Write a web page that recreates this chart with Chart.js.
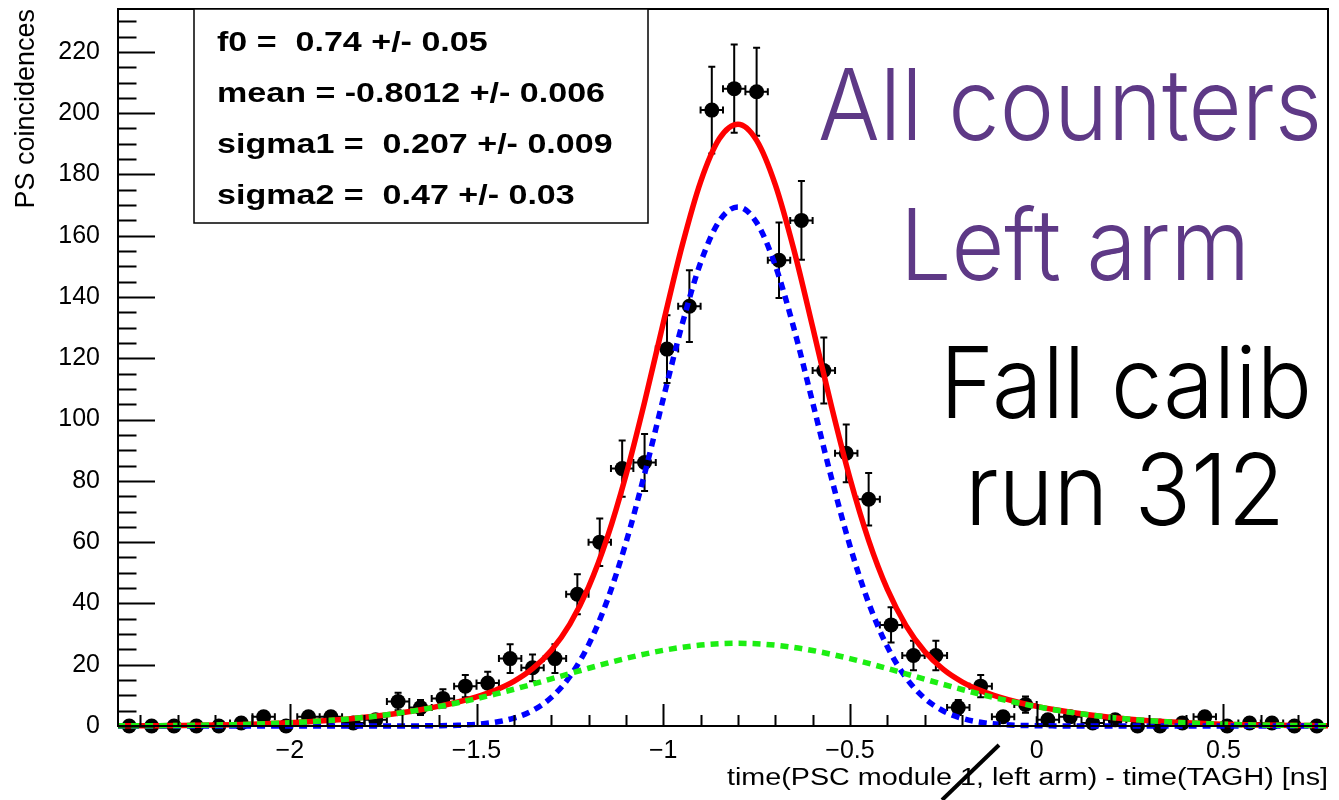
<!DOCTYPE html>
<html>
<head>
<meta charset="utf-8">
<script src="https://cdn.jsdelivr.net/npm/chart.js@4.4.1/dist/chart.umd.min.js"></script>
<style>
  html, body { margin: 0; padding: 0; background: #fff; }
  #wrap { width: 1339px; height: 800px; }
</style>
</head>
<body>
<div id="wrap"><canvas id="chart" width="1339" height="800"></canvas></div>
<script>
// =======================
// Histogram: PSC - TAGH time difference, 0.06 ns bins
// =======================
const binCenters = [
  -2.43, -2.37, -2.31, -2.25, -2.19, -2.13, -2.07, -2.01, -1.95, -1.89,
  -1.83, -1.77, -1.71, -1.65, -1.59, -1.53, -1.47, -1.41, -1.35, -1.29,
  -1.23, -1.17, -1.11, -1.05, -0.99, -0.93, -0.87, -0.81, -0.75, -0.69,
  -0.63, -0.57, -0.51, -0.45, -0.39, -0.33, -0.27, -0.21, -0.15, -0.09,
  -0.03, 0.03, 0.09, 0.15, 0.21, 0.27, 0.33, 0.39, 0.45, 0.51,
  0.57, 0.63, 0.69, 0.75
];
const counts = [
  0, 0, 0, 0, 0, 1, 3, 0, 3, 3,
  1, 2, 8, 6, 9, 13, 14, 22, 19, 22,
  43, 60, 84, 86, 123, 137, 201, 208, 207, 152,
  165, 116, 89, 74, 33, 23, 23, 6, 13, 3,
  7, 2, 3, 1, 2, 0, 0, 1, 3, 0,
  1, 1, 0, 0
];
const countErrors = [
  0, 0, 0, 0, 0, 1, 1.73, 0, 1.73, 1.73,
  1, 1.41, 2.83, 2.45, 3, 3.61, 3.74, 4.69, 4.36, 4.69,
  6.56, 7.75, 9.17, 9.27, 11.09, 11.7, 14.18, 14.42, 14.39, 12.33,
  12.85, 10.77, 9.43, 8.6, 5.74, 4.8, 4.8, 2.45, 3.61, 1.73,
  2.65, 1.41, 1.73, 1, 1.41, 0, 0, 1, 1.73, 0,
  1, 1, 0, 0
];
const binHalfWidth = 0.03;

// =======================
// Double gaussian fit, sampled every 0.05 ns
// =======================
const fitX = [
  -2.50, -2.45, -2.40, -2.35, -2.30, -2.25, -2.20, -2.15, -2.10, -2.05,
  -2.00, -1.95, -1.90, -1.85, -1.80, -1.75, -1.70, -1.65, -1.60, -1.55,
  -1.50, -1.45, -1.40, -1.35, -1.30, -1.25, -1.20, -1.15, -1.10, -1.05,
  -1.00, -0.95, -0.90, -0.85, -0.80, -0.75, -0.70, -0.65, -0.60, -0.55,
  -0.50, -0.45, -0.40, -0.35, -0.30, -0.25, -0.20, -0.15, -0.10, -0.05,
  0.00, 0.05, 0.10, 0.15, 0.20, 0.25, 0.30, 0.35, 0.40, 0.45,
  0.50, 0.55, 0.60, 0.65, 0.70, 0.75, 0.80
];
const fitTotal = [
  0.04, 0.06, 0.08, 0.12, 0.17, 0.23, 0.32, 0.44, 0.59, 0.79,
  1.04, 1.36, 1.76, 2.24, 2.82, 3.52, 4.35, 5.33, 6.47, 7.83,
  9.51, 11.66, 14.57, 18.70, 24.66, 33.28, 45.32, 61.46, 81.83, 105.73,
  131.49, 156.48, 177.61, 191.65, 196.40, 191.14, 176.68, 155.34, 130.23, 104.53,
  80.75, 60.59, 44.66, 32.78, 24.32, 18.46, 14.42, 11.54, 9.42, 7.76,
  6.42, 5.28, 4.30, 3.48, 2.79, 2.21, 1.74, 1.35, 1.03, 0.78,
  0.59, 0.43, 0.32, 0.23, 0.16, 0.12, 0.08
];
const fitNarrow = [
  0, 0, 0, 0, 0, 0, 0, 0, 0, 0,
  0, 0, 0, 0, 0, 0, 0.01, 0.04, 0.10, 0.24,
  0.57, 1.25, 2.58, 5.04, 9.29, 16.16, 26.48, 40.96, 59.77, 82.26,
  106.8, 130.8, 151.2, 164.8, 169.4, 164.3, 150.3, 129.7, 105.6, 81.12,
  58.76, 40.17, 25.90, 15.75, 9.03, 4.89, 2.50, 1.20, 0.55, 0.23,
  0.10, 0.04, 0.01, 0, 0, 0, 0, 0, 0, 0,
  0, 0, 0, 0, 0, 0, 0
];
const fitWide = [
  0.04, 0.06, 0.08, 0.12, 0.17, 0.23, 0.32, 0.44, 0.59, 0.79,
  1.04, 1.36, 1.76, 2.24, 2.82, 3.52, 4.34, 5.29, 6.37, 7.59,
  8.94, 10.41, 11.99, 13.66, 15.37, 17.12, 18.84, 20.50, 22.06, 23.47,
  24.69, 25.68, 26.41, 26.85, 27.00, 26.84, 26.38, 25.64, 24.63, 23.41,
  21.99, 20.42, 18.76, 17.03, 15.29, 13.57, 11.92, 10.34, 8.87, 7.53,
  6.32, 5.24, 4.29, 3.48, 2.79, 2.21, 1.74, 1.35, 1.03, 0.78,
  0.59, 0.43, 0.32, 0.23, 0.16, 0.12, 0.08
];

// =======================
// Axes & labels
// =======================
const xTicks = [-2, -1.5, -1, -0.5, 0, 0.5];
const yTicks = [0, 20, 40, 60, 80, 100, 120, 140, 160, 180, 200, 220];
const fitParams = [
  "f0 =  0.74 +/- 0.05",
  "mean = -0.8012 +/- 0.006",
  "sigma1 =  0.207 +/- 0.009",
  "sigma2 =  0.47 +/- 0.03"
];
const xTitle = "time(PSC module 1, left arm) - time(TAGH) [ns]";
const yTitle = "PS coincidences";

const FONT = "'Liberation Sans', Arial, Helvetica, sans-serif";
const LIGHT = "Inter, Roboto, 'Liberation Sans', sans-serif";
const PURPLE = "#5e3986";

// big side notes: text, colour, [left, right, baseline] in canvas px, font px
const notes = [
  { text: "All counters", color: PURPLE, box: [818, 1322, 140], size: 99 },
  { text: "Left arm",     color: PURPLE, box: [900, 1250, 280], size: 99 },
  { text: "Fall calib",   color: "#000", box: [940, 1312, 418], size: 99 },
  { text: "run 312",      color: "#000", box: [965, 1285, 525], size: 99 }
];

// text squeezed/stretched horizontally to a given width
function fitText(ctx, text, left, width, baseline, font) {
  ctx.save();
  ctx.font = font;
  const w = ctx.measureText(text).width;
  ctx.translate(left, baseline);
  ctx.scale(width / w, 1);
  ctx.textAlign = "left";
  ctx.textBaseline = "alphabetic";
  ctx.fillText(text, 0, 0);
  ctx.restore();
}

function minus(v) {
  return String(v).replace("-", "\u2212");
}

// =======================
// Plugins
// =======================
const errorBars = {
  id: "errorBars",
  beforeDatasetsDraw(chart) {
    const { ctx, scales: { x, y } } = chart;
    const cap = 3.5;
    ctx.save();
    ctx.strokeStyle = "#000";
    ctx.lineWidth = 2;
    ctx.beginPath();
    counts.forEach((n, i) => {
      if (!n) return;
      const px = x.getPixelForValue(binCenters[i]);
      const py = y.getPixelForValue(n);
      const x0 = x.getPixelForValue(binCenters[i] - binHalfWidth);
      const x1 = x.getPixelForValue(binCenters[i] + binHalfWidth);
      const yHi = y.getPixelForValue(n + countErrors[i]);
      const yLo = y.getPixelForValue(n - countErrors[i]);
      ctx.moveTo(x0, py); ctx.lineTo(x1, py);
      ctx.moveTo(x0, py - cap); ctx.lineTo(x0, py + cap);
      ctx.moveTo(x1, py - cap); ctx.lineTo(x1, py + cap);
      ctx.moveTo(px, yHi); ctx.lineTo(px, yLo);
      ctx.moveTo(px - cap, yHi); ctx.lineTo(px + cap, yHi);
      ctx.moveTo(px - cap, yLo); ctx.lineTo(px + cap, yLo);
    });
    ctx.stroke();
    ctx.restore();
  }
};

// ROOT style frame with inward ticks
const rootFrame = {
  id: "rootFrame",
  afterDatasetsDraw(chart) {
    const { ctx, chartArea: a, scales: { x, y } } = chart;
    ctx.save();
    ctx.strokeStyle = "#000";
    ctx.lineWidth = 2;
    ctx.strokeRect(a.left, a.top, a.right - a.left, a.bottom - a.top);
    ctx.beginPath();
    for (let k = -24; k <= 7; k++) {
      const px = Math.round(x.getPixelForValue(k / 10)) + 0.5;
      const len = k % 5 === 0 ? 22 : 11;
      ctx.moveTo(px, a.bottom);
      ctx.lineTo(px, a.bottom - len);
    }
    for (let v = 0; v <= 230; v += 5) {
      const py = Math.round(y.getPixelForValue(v)) + 0.5;
      const len = v % 20 === 0 ? 37 : 18.5;
      ctx.moveTo(a.left, py);
      ctx.lineTo(a.left + len, py);
    }
    ctx.stroke();
    ctx.restore();
  },
  afterDraw(chart) {
    const { ctx, chartArea: a } = chart;
    ctx.save();

    // fit parameter box
    const bx = a.left + 76, by = a.top, bw = 454, bh = 214;
    ctx.fillStyle = "#fff";
    ctx.fillRect(bx, by, bw, bh);
    ctx.strokeStyle = "#000";
    ctx.lineWidth = 1.5;
    ctx.strokeRect(bx, by, bw, bh);
    ctx.fillStyle = "#000";
    ctx.font = "bold 28px " + FONT;
    const sx = 388 / ctx.measureText(fitParams[1]).width;
    fitParams.forEach((t, i) => {
      ctx.save();
      ctx.translate(bx + 23, by + 42 + i * 51);
      ctx.scale(sx, 1);
      ctx.fillText(t, 0, 0);
      ctx.restore();
    });

    // x axis title, right aligned to the frame
    ctx.fillStyle = "#000";
    fitText(ctx, xTitle, a.right - 601, 601, 785, "23px " + FONT);

    // slash over the module number
    ctx.strokeStyle = "#000";
    ctx.lineWidth = 4;
    ctx.beginPath();
    ctx.moveTo(942, 800);
    ctx.lineTo(999, 745);
    ctx.stroke();

    // run notes
    notes.forEach(n => {
      ctx.fillStyle = n.color;
      fitText(ctx, n.text, n.box[0], n.box[1] - n.box[0], n.box[2], "300 " + n.size + "px " + LIGHT);
    });
    ctx.restore();
  }
};

// =======================
// Chart
// =======================
const curve = (label, data, color, dash, order) => ({
  label,
  data: fitX.map((x, i) => ({ x, y: data[i] })),
  showLine: true,
  borderColor: color,
  borderWidth: 5.5,
  borderDash: dash,
  pointRadius: 0,
  cubicInterpolationMode: "monotone",
  clip: { left: 0, right: 0, top: 0, bottom: 6 },
  order
});

new Chart(document.getElementById("chart").getContext("2d"), {
  type: "scatter",
  data: {
    datasets: [
      curve("wide gaussian", fitWide, "#1cee12", [8, 6], 1),
      curve("narrow gaussian", fitNarrow, "#0000ff", [8, 6], 2),
      curve("total fit", fitTotal, "#ff0000", [], 3),
      {
        label: "data",
        data: binCenters.map((x, i) => ({ x, y: counts[i] })),
        pointRadius: 7.5,
        pointBackgroundColor: "#000",
        pointBorderWidth: 0,
        clip: false,
        order: 4
      }
    ]
  },
  options: {
    responsive: false,
    animation: false,
    devicePixelRatio: 1,
    layout: { padding: { top: 9, right: 11, left: 0, bottom: 0 } },
    plugins: { legend: { display: false }, tooltip: { enabled: false } },
    scales: {
      x: {
        type: "linear",
        min: -2.46,
        max: 0.78,
        afterBuildTicks: s => { s.ticks = xTicks.map(v => ({ value: v })); },
        afterFit: s => { s.height = 74; s.paddingLeft = 0; s.paddingRight = 0; },
        grid: { display: false },
        border: { display: false },
        ticks: {
          color: "#000",
          font: { family: FONT, size: 25 },
          padding: 2,
          maxRotation: 0,
          callback: v => minus(v)
        }
      },
      y: {
        min: 0,
        max: 234,
        afterBuildTicks: s => { s.ticks = yTicks.map(v => ({ value: v })); },
        afterFit: s => { s.width = 118; s.paddingTop = 0; s.paddingBottom = 0; },
        grid: { display: false },
        border: { display: false },
        ticks: {
          color: "#000",
          font: { family: FONT, size: 25 },
          padding: 10
        },
        title: {
          display: true,
          text: yTitle,
          align: "end",
          color: "#000",
          font: { family: FONT, size: 27 },
          padding: { top: 10, bottom: 0 }
        }
      }
    }
  },
  plugins: [errorBars, rootFrame]
});
</script>
</body>
</html>
